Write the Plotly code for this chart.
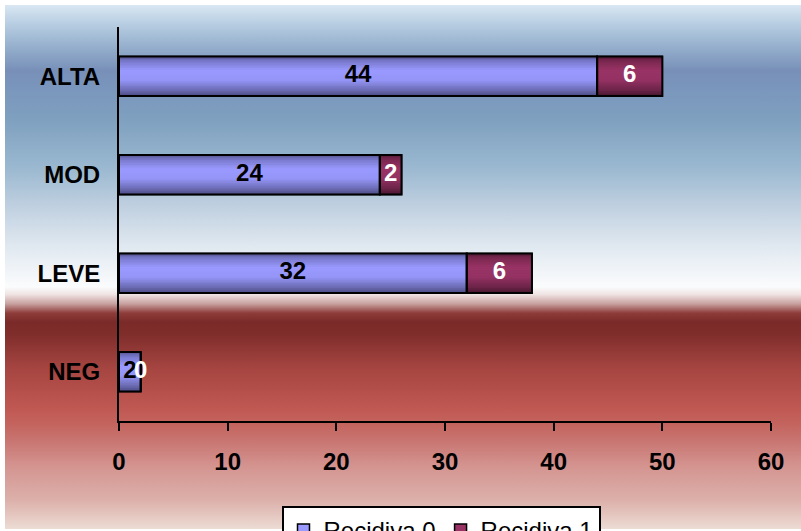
import base64
import plotly.graph_objects as go

# ---- data -------------------------------------------------------------
categories = ["NEG", "LEVE", "MOD", "ALTA"]
recidiva_0 = [2, 32, 24, 44]
recidiva_1 = [0, 6, 2, 6]
series_names = ["Recidiva 0", "Recidiva 1"]
x_ticks = [0, 10, 20, 30, 40, 50, 60]

FONT = "Liberation Sans, Arial, sans-serif"
BAR_W = 0.4


def hex_rgb(h):
    h = h.lstrip("#")
    return tuple(int(h[i:i + 2], 16) for i in (0, 2, 4))


def ramp(stops, t):
    """Piecewise-linear colour ramp; stops = [(pos, '#rrggbb'), ...]."""
    for (p0, c0), (p1, c1) in zip(stops, stops[1:]):
        if p0 <= t <= p1:
            f = 0 if p1 == p0 else (t - p0) / (p1 - p0)
            a, b = hex_rgb(c0), hex_rgb(c1)
            return "rgb(%d,%d,%d)" % tuple(round(a[k] + (b[k] - a[k]) * f) for k in range(3))
    return "rgb(%d,%d,%d)" % hex_rgb(stops[-1][1])


# vertical shading across each bar (0 = top edge, 1 = bottom edge)
shading = [
    [(0, "#5a5a98"), (0.12, "#7878cc"), (0.35, "#9999ff"), (0.6, "#9595f8"),
     (0.85, "#6c6cb4"), (1, "#4c4c84")],
    [(0, "#5a1c3a"), (0.12, "#7a2850"), (0.35, "#993366"), (0.6, "#943163"),
     (0.85, "#6c2448"), (1, "#48162e")],
]
base_colors = ["#9999ff", "#993366"]
label_colors = ["black", "white"]

series = [recidiva_0, recidiva_1]
bases = [[0] * len(categories), recidiva_0]

fig = go.Figure()

# solid bars (these carry the legend entries)
for s, name in enumerate(series_names):
    fig.add_trace(go.Bar(
        y=categories, x=series[s], base=bases[s], orientation="h",
        width=BAR_W, offset=-BAR_W / 2, name=name,
        marker=dict(color=base_colors[s], line=dict(color="black", width=1.5)),
        hoverinfo="skip",
    ))

# shaded strips on top of the solid bars
N = 24
h = BAR_W / N
for s in range(2):
    for i in range(N):
        off = -BAR_W / 2 + i * h
        w = min(h * 1.5, BAR_W / 2 - off)
        t = 1 - (i + 0.5) / N
        fig.add_trace(go.Bar(
            y=categories, x=series[s], base=bases[s], orientation="h",
            width=w, offset=off, showlegend=False, hoverinfo="skip",
            marker=dict(color=ramp(shading[s], t), line=dict(width=0)),
        ))

# black outlines
for s in range(2):
    fig.add_trace(go.Bar(
        y=categories, x=series[s], base=bases[s], orientation="h",
        width=BAR_W, offset=-BAR_W / 2, showlegend=False, hoverinfo="skip",
        marker=dict(color="rgba(0,0,0,0)", line=dict(color="black", width=2)),
    ))

# value labels centred in each segment
for s in range(2):
    fig.add_trace(go.Scatter(
        y=categories,
        x=[b + v / 2 for b, v in zip(bases[s], series[s])],
        mode="text", text=[str(v) for v in series[s]],
        textfont=dict(family=FONT, size=24, color=label_colors[s], weight="bold"),
        showlegend=False, hoverinfo="skip", cliponaxis=False,
    ))

# background panel: blue sky fading to white, then a dark red band
bg_stops = [
    (0.000, "#d9e7f2"), (0.040, "#b4cbe0"), (0.090, "#8ea8c8"), (0.125, "#7890b8"),
    (0.160, "#7a96bc"), (0.220, "#7fa0bf"), (0.310, "#9ab8d0"), (0.385, "#c0d0e0"),
    (0.460, "#e0e8f0"), (0.538, "#fbfcfd"), (0.552, "#f0e4e4"), (0.570, "#c8a2a0"),
    (0.588, "#8e3c3a"), (0.605, "#7a2a28"), (0.630, "#802e2c"), (0.690, "#a44440"),
    (0.770, "#c05852"), (0.800, "#c4645e"), (0.830, "#c87470"), (0.880, "#d49490"),
    (0.945, "#dcb0aa"), (1.000, "#ecdcd4"),
]
stop_tags = "".join('<stop offset="%.3f" stop-color="%s"/>' % (p, c) for p, c in bg_stops)
svg = (
    '<svg xmlns="http://www.w3.org/2000/svg" width="796" height="524" preserveAspectRatio="none">'
    '<defs><linearGradient id="g" x1="0" y1="0" x2="0" y2="1">' + stop_tags +
    '</linearGradient></defs><rect width="100%" height="100%" fill="url(#g)"/></svg>'
)
bg_uri = "data:image/svg+xml;base64," + base64.b64encode(svg.encode()).decode()

L, R, T, B = 119, 30, 27, 110
W, H = 801, 531
pw, ph = W - L - R, H - T - B
px_x = lambda px: (px - L) / pw
px_y = lambda py: (H - B - py) / ph

fig.add_layout_image(dict(
    source=bg_uri, xref="paper", yref="paper",
    x=px_x(5), y=px_y(5), sizex=px_x(801) - px_x(5), sizey=px_y(5) - px_y(529),
    xanchor="left", yanchor="top", sizing="stretch", layer="below",
))

fig.update_layout(
    width=W, height=H,
    margin=dict(l=L, r=R, t=T, b=B, autoexpand=False),
    paper_bgcolor="white", plot_bgcolor="rgba(0,0,0,0)",
    barmode="overlay",
    font=dict(family=FONT, color="black"),
    showlegend=True,
    legend=dict(
        orientation="h", x=px_x(441), xanchor="center", y=px_y(506), yanchor="top",
        bgcolor="white", bordercolor="black", borderwidth=2,
        font=dict(family=FONT, size=24, color="black"),
        itemwidth=30, tracegroupgap=0,
    ),
    xaxis=dict(
        range=[0, 60], tickvals=x_ticks, ticktext=[str(v) for v in x_ticks],
        showgrid=False, zeroline=False, showline=True, linecolor="black", linewidth=2,
        ticks="outside", ticklen=8, tickwidth=2, tickcolor="black",
        tickfont=dict(family=FONT, size=24, color="black", weight="bold"),
        ticklabelstandoff=10,
    ),
    yaxis=dict(
        type="category", categoryorder="array", categoryarray=categories,
        range=[-0.5, 3.5], showgrid=False, zeroline=False,
        showline=True, linecolor="black", linewidth=2, ticks="",
        tickfont=dict(family=FONT, size=24, color="black", weight="bold"),
        ticklabelstandoff=12,
    ),
)

fig.write_html("out.html")
